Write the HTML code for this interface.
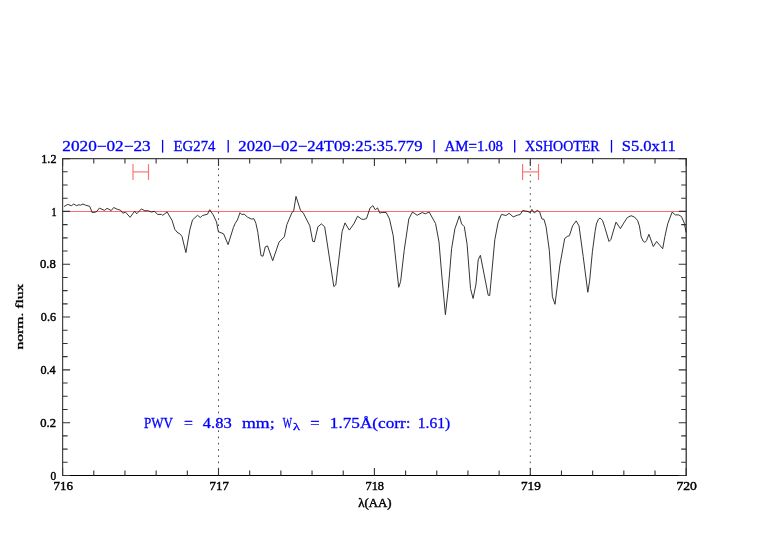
<!DOCTYPE html><html><head><meta charset="utf-8"><style>html,body{margin:0;padding:0;background:#fff;}svg{display:block;}</style></head><body><svg width="782" height="542" viewBox="0 0 782 542">
<rect width="782" height="542" fill="#fff"/>
<line x1="218.50" y1="158.60" x2="218.50" y2="475.50" stroke="#4a4a4a" stroke-width="1" stroke-dasharray="1.6 4.64" stroke-dashoffset="-3.46"/>
<line x1="530.30" y1="158.60" x2="530.30" y2="475.50" stroke="#4a4a4a" stroke-width="1" stroke-dasharray="1.6 4.64" stroke-dashoffset="-3.46"/>
<path d="M64.1,206.5 L67.7,204.4 L71.3,205.7 L73.8,204.0 L76.4,205.7 L78.9,204.7 L80.5,205.2 L83.0,204.0 L85.6,205.2 L89.7,206.3 L92.2,212.6 L96.3,211.9 L99.4,208.1 L104.5,210.4 L107.1,208.3 L111.2,210.6 L113.7,207.5 L117.3,209.3 L120.4,210.1 L122.9,213.2 L125.5,212.2 L130.1,217.3 L134.7,211.2 L136.7,213.8 L141.4,208.9 L145.0,210.9 L147.2,210.5 L151.6,212.0 L154.4,211.3 L157.7,214.4 L161.5,214.4 L162.7,215.3 L167.1,212.0 L172.1,220.5 L174.8,229.3 L177.0,232.1 L180.4,234.3 L182.0,236.5 L185.9,252.6 L189.8,229.9 L192.5,219.9 L197.5,215.3 L200.3,217.5 L202.5,215.5 L207.5,214.2 L209.7,209.7 L213.2,214.9 L216.5,222.0 L218.4,231.7 L223.6,233.8 L228.1,244.6 L233.3,227.8 L235.2,223.3 L237.4,220.0 L240.0,212.7 L241.7,214.5 L244.2,214.2 L247.5,217.1 L251.3,219.1 L253.9,218.7 L255.9,223.3 L257.8,232.3 L261.0,255.6 L263.0,256.2 L265.3,246.8 L267.5,245.9 L272.7,260.7 L279.1,242.0 L284.3,236.8 L286.9,224.5 L291.8,212.9 L293.7,210.9 L296.0,196.4 L300.5,210.3 L303.4,213.2 L309.8,225.8 L312.7,241.3 L314.4,241.9 L317.9,226.8 L321.4,223.9 L324.7,226.8 L333.8,286.5 L335.8,284.9 L342.1,231.6 L345.0,222.9 L349.3,230.1 L353.8,223.9 L357.6,216.2 L361.5,219.1 L363.7,219.4 L366.5,218.6 L370.1,207.9 L372.9,205.7 L375.3,209.8 L377.5,207.9 L379.9,213.1 L382.1,212.5 L386.2,212.5 L389.5,219.0 L393.2,235.6 L398.7,287.3 L400.6,281.7 L404.2,250.4 L408.8,219.0 L412.5,212.0 L417.1,215.3 L422.3,212.5 L425.4,213.8 L429.1,212.0 L435.6,223.6 L439.0,242.1 L441.6,273.1 L445.4,314.7 L448.3,288.6 L451.6,248.7 L454.9,228.8 L459.4,215.9 L461.6,223.9 L464.3,226.6 L467.1,244.3 L470.5,288.6 L473.1,298.5 L476.0,284.1 L478.2,259.8 L480.4,255.3 L488.2,295.2 L489.7,295.6 L494.8,239.8 L498.2,222.1 L501.5,214.4 L505.9,215.5 L509.2,213.3 L513.2,216.9 L517.4,215.2 L520.2,214.5 L522.7,210.5 L527.0,211.3 L530.2,212.4 L531.9,209.4 L534.4,213.0 L537.2,210.3 L539.7,212.0 L541.8,218.8 L544.0,219.4 L546.1,226.8 L549.3,250.2 L552.4,296.8 L555.0,304.3 L559.9,265.0 L564.7,238.5 L567.3,236.4 L569.4,235.7 L572.6,225.8 L576.2,220.9 L579.0,225.8 L583.2,256.5 L587.8,292.3 L589.6,281.2 L592.4,251.7 L595.1,231.4 L596.4,224.0 L598.3,219.4 L600.1,218.1 L602.5,220.3 L604.9,227.7 L609.0,241.5 L610.8,239.7 L616.0,222.1 L620.4,228.6 L623.7,223.1 L627.4,217.5 L631.1,215.7 L634.4,217.0 L637.5,220.3 L639.4,225.8 L641.2,236.9 L643.1,241.0 L644.9,242.4 L646.6,240.4 L648.9,234.3 L653.3,246.5 L656.6,241.5 L662.7,248.7 L664.9,236.5 L667.7,223.8 L672.1,212.2 L675.4,214.9 L678.7,214.9 L681.5,216.6 L684.3,223.2 L686.1,232.5" fill="none" stroke="#2a2a2a" stroke-width="0.95" stroke-linejoin="round"/>
<line x1="62.6" y1="211.5" x2="686.2" y2="211.5" stroke="#ff6c6c" stroke-width="1.05" style="mix-blend-mode:multiply"/>
<g stroke="#ff7070" stroke-width="1.15" fill="none"><line x1="133.0" y1="164.1" x2="133.0" y2="179.9"/><line x1="148.5" y1="164.1" x2="148.5" y2="179.9"/><line x1="133.0" y1="171.9" x2="148.5" y2="171.9"/></g>
<g stroke="#ff7070" stroke-width="1.15" fill="none"><line x1="522.6" y1="164.1" x2="522.6" y2="179.9"/><line x1="538.5" y1="164.1" x2="538.5" y2="179.9"/><line x1="522.6" y1="171.9" x2="538.5" y2="171.9"/></g>
<g stroke-width="1.2" stroke-linecap="square"><line x1="62.6" y1="158.6" x2="686.2" y2="158.6" stroke="#444"/><line x1="62.6" y1="475.5" x2="686.2" y2="475.5" stroke="#000"/><line x1="62.6" y1="158.6" x2="62.6" y2="475.5" stroke="#444"/><line x1="686.2" y1="158.6" x2="686.2" y2="475.5" stroke="#222"/></g>
<path d="M62.60,475.5v-7.5 M62.60,158.6v7.5 M93.78,475.5v-5 M93.78,158.6v5 M124.96,475.5v-5 M124.96,158.6v5 M156.14,475.5v-5 M156.14,158.6v5 M187.32,475.5v-5 M187.32,158.6v5 M218.50,475.5v-7.5 M218.50,158.6v7.5 M249.68,475.5v-5 M249.68,158.6v5 M280.86,475.5v-5 M280.86,158.6v5 M312.04,475.5v-5 M312.04,158.6v5 M343.22,475.5v-5 M343.22,158.6v5 M374.40,475.5v-7.5 M374.40,158.6v7.5 M405.58,475.5v-5 M405.58,158.6v5 M436.76,475.5v-5 M436.76,158.6v5 M467.94,475.5v-5 M467.94,158.6v5 M499.12,475.5v-5 M499.12,158.6v5 M530.30,475.5v-7.5 M530.30,158.6v7.5 M561.48,475.5v-5 M561.48,158.6v5 M592.66,475.5v-5 M592.66,158.6v5 M623.84,475.5v-5 M623.84,158.6v5 M655.02,475.5v-5 M655.02,158.6v5 M686.20,475.5v-7.5 M686.20,158.6v7.5 M62.6,475.50h7.5 M686.2,475.50h-7.5 M62.6,462.30h5 M686.2,462.30h-5 M62.6,449.09h5 M686.2,449.09h-5 M62.6,435.89h5 M686.2,435.89h-5 M62.6,422.68h7.5 M686.2,422.68h-7.5 M62.6,409.48h5 M686.2,409.48h-5 M62.6,396.27h5 M686.2,396.27h-5 M62.6,383.07h5 M686.2,383.07h-5 M62.6,369.87h7.5 M686.2,369.87h-7.5 M62.6,356.66h5 M686.2,356.66h-5 M62.6,343.46h5 M686.2,343.46h-5 M62.6,330.25h5 M686.2,330.25h-5 M62.6,317.05h7.5 M686.2,317.05h-7.5 M62.6,303.85h5 M686.2,303.85h-5 M62.6,290.64h5 M686.2,290.64h-5 M62.6,277.44h5 M686.2,277.44h-5 M62.6,264.23h7.5 M686.2,264.23h-7.5 M62.6,251.03h5 M686.2,251.03h-5 M62.6,237.83h5 M686.2,237.83h-5 M62.6,224.62h5 M686.2,224.62h-5 M62.6,211.42h7.5 M686.2,211.42h-7.5 M62.6,198.21h5 M686.2,198.21h-5 M62.6,185.01h5 M686.2,185.01h-5 M62.6,171.80h5 M686.2,171.80h-5 M62.6,158.60h7.5 M686.2,158.60h-7.5" stroke="#333" stroke-width="1.1" fill="none"/>
<line x1="162.6" y1="139.9" x2="162.6" y2="152.6" stroke="#0000ff" stroke-width="1.3"/>
<line x1="228.2" y1="139.9" x2="228.2" y2="152.6" stroke="#0000ff" stroke-width="1.3"/>
<line x1="434.1" y1="139.9" x2="434.1" y2="152.6" stroke="#0000ff" stroke-width="1.3"/>
<line x1="514.7" y1="139.9" x2="514.7" y2="152.6" stroke="#0000ff" stroke-width="1.3"/>
<line x1="611.5" y1="139.9" x2="611.5" y2="152.6" stroke="#0000ff" stroke-width="1.3"/>
<text x="62.30" y="150.80" font-family='"Liberation Serif", serif' font-size="14.20" fill="#0000ff" stroke="#0000ff" stroke-width="0.3" textLength="88.40" lengthAdjust="spacingAndGlyphs">2020−02−23</text>
<text x="173.57" y="150.80" font-family='"Liberation Serif", serif' font-size="14.20" fill="#0000ff" stroke="#0000ff" stroke-width="0.3" textLength="41.84" lengthAdjust="spacingAndGlyphs">EG274</text>
<text x="238.32" y="150.80" font-family='"Liberation Serif", serif' font-size="14.20" fill="#0000ff" stroke="#0000ff" stroke-width="0.3" textLength="184.18" lengthAdjust="spacingAndGlyphs">2020−02−24T09:25:35.779</text>
<text x="444.49" y="150.80" font-family='"Liberation Serif", serif' font-size="14.20" fill="#0000ff" stroke="#0000ff" stroke-width="0.3" textLength="58.60" lengthAdjust="spacingAndGlyphs">AM=1.08</text>
<text x="525.10" y="150.80" font-family='"Liberation Serif", serif' font-size="14.20" fill="#0000ff" stroke="#0000ff" stroke-width="0.3" textLength="74.54" lengthAdjust="spacingAndGlyphs">XSHOOTER</text>
<text x="621.68" y="150.80" font-family='"Liberation Serif", serif' font-size="14.20" fill="#0000ff" stroke="#0000ff" stroke-width="0.3" textLength="54.12" lengthAdjust="spacingAndGlyphs">S5.0x11</text>
<text x="144.01" y="427.80" font-family='"Liberation Serif", serif' font-size="14.60" fill="#0000ff" stroke="#0000ff" stroke-width="0.3" textLength="28.92" lengthAdjust="spacingAndGlyphs">PWV</text>
<text x="184.00" y="427.80" font-family='"Liberation Serif", serif' font-size="14.60" fill="#0000ff" stroke="#0000ff" stroke-width="0.3" textLength="8.88" lengthAdjust="spacingAndGlyphs">=</text>
<text x="202.83" y="427.80" font-family='"Liberation Serif", serif' font-size="14.60" fill="#0000ff" stroke="#0000ff" stroke-width="0.3" textLength="28.92" lengthAdjust="spacingAndGlyphs">4.83</text>
<text x="242.03" y="427.80" font-family='"Liberation Serif", serif' font-size="14.60" fill="#0000ff" stroke="#0000ff" stroke-width="0.3" textLength="32.61" lengthAdjust="spacingAndGlyphs">mm;</text>
<text x="282.78" y="427.80" font-family='"Liberation Serif", serif' font-size="14.60" fill="#0000ff" stroke="#0000ff" stroke-width="0.3" textLength="9.29" lengthAdjust="spacingAndGlyphs">W</text>
<text x="293.06" y="430.30" font-family='"Liberation Serif", serif' font-size="10.14" fill="#0000ff" stroke="#0000ff" stroke-width="0.3" textLength="7.02" lengthAdjust="spacingAndGlyphs">λ</text>
<text x="310.21" y="427.80" font-family='"Liberation Serif", serif' font-size="14.60" fill="#0000ff" stroke="#0000ff" stroke-width="0.3" textLength="9.40" lengthAdjust="spacingAndGlyphs">=</text>
<text x="329.88" y="427.80" font-family='"Liberation Serif", serif' font-size="14.60" fill="#0000ff" stroke="#0000ff" stroke-width="0.3" textLength="80.57" lengthAdjust="spacingAndGlyphs">1.75Å(corr:</text>
<text x="417.81" y="427.80" font-family='"Liberation Serif", serif' font-size="14.60" fill="#0000ff" stroke="#0000ff" stroke-width="0.3" textLength="32.34" lengthAdjust="spacingAndGlyphs">1.61)</text>
<text x="41.32" y="162.70" font-family='"Liberation Serif", serif' font-size="12.00" fill="#000" stroke="#000" stroke-width="0.42" textLength="15.14" lengthAdjust="spacingAndGlyphs">1.2</text>
<text x="51.58" y="215.52" font-family='"Liberation Serif", serif' font-size="12.00" fill="#000" stroke="#000" stroke-width="0.42" textLength="5.11" lengthAdjust="spacingAndGlyphs">1</text>
<text x="39.95" y="268.33" font-family='"Liberation Serif", serif' font-size="12.00" fill="#000" stroke="#000" stroke-width="0.42" textLength="15.87" lengthAdjust="spacingAndGlyphs">0.8</text>
<text x="40.89" y="321.15" font-family='"Liberation Serif", serif' font-size="12.00" fill="#000" stroke="#000" stroke-width="0.42" textLength="15.16" lengthAdjust="spacingAndGlyphs">0.6</text>
<text x="40.49" y="373.97" font-family='"Liberation Serif", serif' font-size="12.00" fill="#000" stroke="#000" stroke-width="0.42" textLength="15.21" lengthAdjust="spacingAndGlyphs">0.4</text>
<text x="40.32" y="426.78" font-family='"Liberation Serif", serif' font-size="12.00" fill="#000" stroke="#000" stroke-width="0.42" textLength="15.71" lengthAdjust="spacingAndGlyphs">0.2</text>
<text x="50.39" y="479.60" font-family='"Liberation Serif", serif' font-size="12.00" fill="#000" stroke="#000" stroke-width="0.42" textLength="5.67" lengthAdjust="spacingAndGlyphs">0</text>
<text x="53.44" y="490.10" font-family='"Liberation Serif", serif' font-size="12.00" fill="#000" stroke="#000" stroke-width="0.42" textLength="19.48" lengthAdjust="spacingAndGlyphs">716</text>
<text x="209.63" y="490.10" font-family='"Liberation Serif", serif' font-size="12.00" fill="#000" stroke="#000" stroke-width="0.42" textLength="19.25" lengthAdjust="spacingAndGlyphs">717</text>
<text x="365.49" y="490.10" font-family='"Liberation Serif", serif' font-size="12.00" fill="#000" stroke="#000" stroke-width="0.42" textLength="18.52" lengthAdjust="spacingAndGlyphs">718</text>
<text x="521.03" y="490.10" font-family='"Liberation Serif", serif' font-size="12.00" fill="#000" stroke="#000" stroke-width="0.42" textLength="19.73" lengthAdjust="spacingAndGlyphs">719</text>
<text x="676.44" y="490.10" font-family='"Liberation Serif", serif' font-size="12.00" fill="#000" stroke="#000" stroke-width="0.42" textLength="20.44" lengthAdjust="spacingAndGlyphs">720</text>
<text x="358.25" y="506.60" font-family='"Liberation Serif", serif' font-size="11.80" fill="#000" stroke="#000" stroke-width="0.42" textLength="33.36" lengthAdjust="spacingAndGlyphs">λ(AA)</text>
<text transform="translate(23.2,316.6) rotate(-90)" x="-33" style="font-variant-ligatures:none" font-family='"Liberation Serif", serif' font-size="10.3" fill="#000" stroke="#000" stroke-width="0.3" textLength="66" lengthAdjust="spacingAndGlyphs">norm. flux</text>
</svg></body></html>
